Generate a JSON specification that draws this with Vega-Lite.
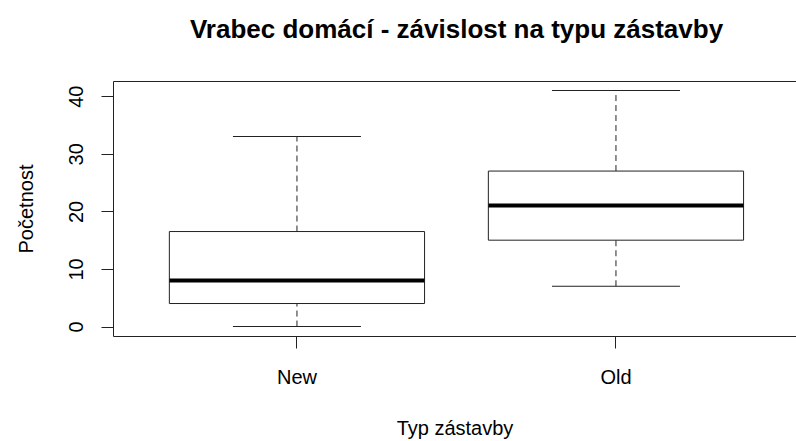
{
  "$schema": "https://vega.github.io/schema/vega-lite/v6.json",
  "autosize": "none",
  "width": 683,
  "height": 255,
  "padding": {"left": 113, "top": 81, "right": 0, "bottom": 105},
  "background": "white",
  "config": {
    "view": {"stroke": null},
    "font": "Liberation Sans",
    "axis": {"grid": false, "domainColor": "#222", "tickColor": "#222", "labelColor": "black", "titleColor": "black", "labelFont": "Liberation Sans", "titleFont": "Liberation Sans", "labelFontSize": 20, "titleFontSize": 20, "titleFontWeight": "normal", "tickSize": 12, "domainWidth": 1, "tickWidth": 1}
  },
  "title": {"text": "Vrabec domácí - závislost na typu zástavby", "font": "Liberation Sans", "fontSize": 26, "fontWeight": "bold", "color": "black", "anchor": "middle", "baseline": "alphabetic", "offset": 17, "dx": 2},
  "data": {"values": [
    {"group": "New", "min": 0, "q1": 4, "median": 8, "q3": 16.5, "max": 33},
    {"group": "Old", "min": 7, "q1": 15, "median": 21, "q3": 27, "max": 41}
  ]},
  "resolve": {"axis": {"x": "independent"}},
  "layer": [
    {
      "mark": {"type": "rule", "strokeDash": [6, 4], "color": "#222", "strokeWidth": 1},
      "encoding": {
        "x": {"field": "group", "type": "nominal", "scale": {"type": "band", "paddingInner": 0.2, "paddingOuter": 0.1705, "align": 0.518},
              "axis": {"orient": "bottom", "title": "Typ zástavby", "labelAngle": 0, "labelBaseline": "alphabetic", "labelPadding": 35, "titleBaseline": "alphabetic", "titleY": 98, "titleAnchor": "middle"}},
        "y": {"field": "q3", "type": "quantitative", "scale": {"domain": [-1.64, 42.64], "nice": false, "zero": false},
              "axis": {"title": "Početnost", "values": [0, 10, 20, 30, 40], "labelAngle": 270, "labelAlign": "center", "labelBaseline": "alphabetic", "labelPadding": 19, "titleAngle": 270, "titleBaseline": "alphabetic", "titleAlign": "center", "titleX": -81, "titleY": 127.5}},
        "y2": {"field": "max"}
      }
    },
    {
      "mark": {"type": "rule", "strokeDash": [6, 4], "color": "#222", "strokeWidth": 1},
      "encoding": {
        "x": {"field": "group", "type": "nominal", "axis": null},
        "y": {"field": "min", "type": "quantitative"},
        "y2": {"field": "q1"}
      }
    },
    {
      "mark": {"type": "bar", "fill": "white", "stroke": "#222", "strokeWidth": 1},
      "encoding": {
        "x": {"field": "group", "type": "nominal", "axis": {"orient": "top", "title": null, "labels": false, "ticks": false, "domain": true}},
        "y": {"field": "q1", "type": "quantitative"},
        "y2": {"field": "q3"}
      }
    },
    {
      "mark": {"type": "tick", "size": 255, "thickness": 4, "color": "black", "opacity": 1},
      "encoding": {
        "x": {"field": "group", "type": "nominal", "axis": null},
        "y": {"field": "median", "type": "quantitative"}
      }
    },
    {
      "mark": {"type": "tick", "size": 128, "thickness": 1, "color": "#222", "opacity": 1},
      "encoding": {
        "x": {"field": "group", "type": "nominal", "axis": null},
        "y": {"field": "max", "type": "quantitative"}
      }
    },
    {
      "mark": {"type": "tick", "size": 128, "thickness": 1, "color": "#222", "opacity": 1},
      "encoding": {
        "x": {"field": "group", "type": "nominal", "axis": null},
        "y": {"field": "min", "type": "quantitative"}
      }
    }
  ]
}
